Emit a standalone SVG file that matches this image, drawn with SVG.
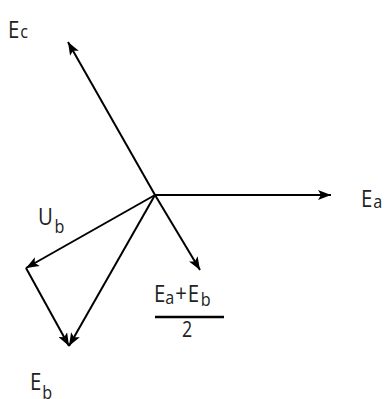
<svg xmlns="http://www.w3.org/2000/svg" width="386" height="399" viewBox="0 0 386 399">
<style>
.v{stroke:#000;stroke-width:2;fill:none;marker-end:url(#ah)}
.t{font-family:"Open Sans","Liberation Sans",sans-serif;fill:#222;font-size:24px}
.s{font-size:19px}
</style>
<defs>
<marker id="ah" markerUnits="userSpaceOnUse" markerWidth="14" markerHeight="10" refX="13" refY="5" orient="auto">
<path d="M0,0 L13,5 L0,10 L3,5 z" fill="#000"/>
</marker>
</defs>
<rect width="386" height="399" fill="#fff"/>
<g id="connectors">
<line class="v" x1="155" y1="195" x2="331" y2="195"/>
<line class="v" x1="155" y1="195" x2="68" y2="42"/>
<line class="v" x1="155" y1="195" x2="200" y2="270"/>
<line class="v" x1="155" y1="195" x2="26" y2="268"/>
<line class="v" x1="155" y1="195" x2="69" y2="346"/>
<line class="v" x1="26" y1="268" x2="69" y2="346"/>
</g>
<g id="Ec">
<text class="t" transform="translate(8,38) scale(.85,1)">E<tspan class="s" dx="1">c</tspan></text>
</g>
<g id="Ea">
<text class="t" transform="translate(361,207) scale(.85,1)">E<tspan class="s" dx="1" dy="1">a</tspan></text>
</g>
<g id="Ub">
<text class="t" transform="translate(38,225) scale(.85,1)">U<tspan class="s" dx="2" dy="8">b</tspan></text>
</g>
<g id="Eb">
<text class="t" transform="translate(30,390) scale(.85,1)">E<tspan class="s" dx="1" dy="9">b</tspan></text>
</g>
<g id="half">
<text class="t" transform="translate(154,302) scale(.85,1)">E<tspan class="s" dy="2">a</tspan><tspan dx="1" dy="-2">+</tspan><tspan dx="1">E</tspan><tspan class="s" dx="2" dy="4">b</tspan></text>
<line x1="155" y1="317" x2="224" y2="317" stroke="#000" stroke-width="2.5"/>
<text class="t" transform="translate(182,337) scale(.85,1)" style="font-size:21px">2</text>
</g>
</svg>
